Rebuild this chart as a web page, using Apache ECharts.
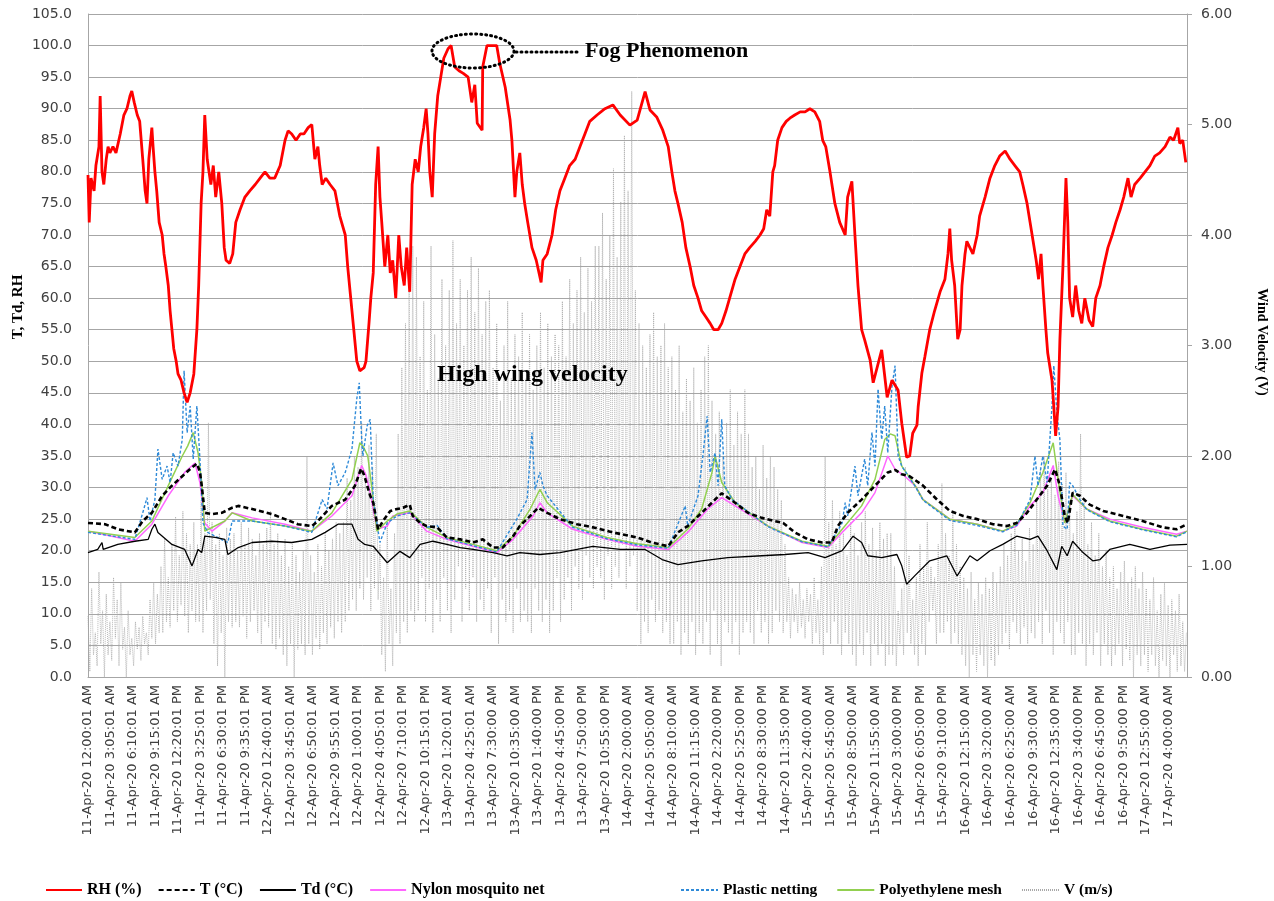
<!DOCTYPE html>
<html>
<head>
<meta charset="utf-8">
<script src="https://cdn.jsdelivr.net/npm/echarts@6/dist/echarts.min.js"></script>
<style>html,body{margin:0;padding:0;background:#fff;}#c{width:1274px;height:901px;}</style>
</head>
<body>
<div id="c"></div>
<script>
// x values are 5-minute steps from 11-Apr-20 12:00:01 AM
const tickLabels = [
"11-Apr-20 12:00:01 AM","11-Apr-20 3:05:01 AM","11-Apr-20 6:10:01 AM","11-Apr-20 9:15:01 AM","11-Apr-20 12:20:01 PM","11-Apr-20 3:25:01 PM","11-Apr-20 6:30:01 PM","11-Apr-20 9:35:01 PM",
"12-Apr-20 12:40:01 AM","12-Apr-20 3:45:01 AM","12-Apr-20 6:50:01 AM","12-Apr-20 9:55:01 AM","12-Apr-20 1:00:01 PM","12-Apr-20 4:05:01 PM","12-Apr-20 7:10:01 PM","12-Apr-20 10:15:01 PM",
"13-Apr-20 1:20:01 AM","13-Apr-20 4:25:01 AM","13-Apr-20 7:30:00 AM","13-Apr-20 10:35:00 AM","13-Apr-20 1:40:00 PM","13-Apr-20 4:45:00 PM","13-Apr-20 7:50:00 PM","13-Apr-20 10:55:00 PM",
"14-Apr-20 2:00:00 AM","14-Apr-20 5:05:00 AM","14-Apr-20 8:10:00 AM","14-Apr-20 11:15:00 AM","14-Apr-20 2:20:00 PM","14-Apr-20 5:25:00 PM","14-Apr-20 8:30:00 PM","14-Apr-20 11:35:00 PM",
"15-Apr-20 2:40:00 AM","15-Apr-20 5:45:00 AM","15-Apr-20 8:50:00 AM","15-Apr-20 11:55:00 AM","15-Apr-20 3:00:00 PM","15-Apr-20 6:05:00 PM","15-Apr-20 9:10:00 PM",
"16-Apr-20 12:15:00 AM","16-Apr-20 3:20:00 AM","16-Apr-20 6:25:00 AM","16-Apr-20 9:30:00 AM","16-Apr-20 12:35:00 PM","16-Apr-20 3:40:00 PM","16-Apr-20 6:45:00 PM","16-Apr-20 9:50:00 PM",
"17-Apr-20 12:55:00 AM","17-Apr-20 4:00:00 AM"];
const lastIndex = 1807;
const labelStep = 37;

const rh = [[0,79.5],[2,72],[5,79],[10,77],[13,81],[18,84],[20,92],[21,92.3],[23,80],[26,78],[30,82],[33,84],[36,83],[41,84],[46,83],[53,86],[59,89],[64,90],[69,92],[72,92.8],[76,91],[81,89],[85,88],[90,82],[94,77],[97,75],[100,82],[105,87],[107,84],[110,80],[113,77],[117,72],[122,70],[125,67],[128,65],[132,62],[135,58],[138,55],[141,52],[145,50],[148,48],[153,47],[158,45],[163,43.5],[168,45],[174,48],[179,55],[182,62],[186,75],[189,80],[192,89],[196,82],[199,80],[202,78],[206,81],[210,76],[215,80],[220,75],[224,68],[227,66],[233,65.5],[238,67],[243,72],[250,74],[258,76],[266,77],[275,78],[283,79],[291,80],[299,79],[307,79],[316,81],[324,85],[329,86.5],[335,86],[342,85],[349,86],[355,86],[362,87],[368,87.5],[373,82],[378,84],[381,81],[385,78],[391,79],[398,78],[406,77],[414,73],[423,70],[427,65],[432,60],[437,55],[442,50],[447,48.5],[454,49],[457,50],[462,56],[465,60],[469,64],[473,78],[477,84],[480,76],[483,72],[488,65],[493,70],[497,64],[501,66],[506,60],[511,70],[515,65],[520,62],[524,68],[529,61],[533,78],[538,82],[543,80],[547,84],[552,87],[556,90],[559,86],[562,80],[566,76],[570,86],[575,92],[580,95],[585,98],[592,99.5],[597,100],[600,100],[603,96.6],[610,96],[617,95.6],[625,95],[631,91],[636,93.8],[640,87.7],[648,86.6],[649,96.6],[656,100],[672,100],[677,97.2],[686,93.4],[694,88.2],[697,85],[702,76],[705,80],[710,83],[714,78],[718,75],[723,72],[730,68],[737,66],[745,62.5],[748,66],[755,67],[763,70],[769,74],[776,77],[784,79],[792,81],[801,82],[809,84],[817,86],[825,88],[837,89],[850,90],[863,90.6],[875,89],[891,87.4],[903,88.2],[916,92.7],[924,89.8],[935,88.7],[945,86.6],[954,84],[960,80],[965,77],[970,75],[977,72],[983,68],[990,65],[996,62],[1003,60],[1009,58],[1016,57],[1023,56],[1029,55],[1036,55],[1042,56],[1049,58],[1055,60],[1064,63],[1072,65],[1080,67],[1088,68],[1097,69],[1105,70],[1111,71],[1116,74],[1121,73],[1126,80],[1129,81],[1134,85],[1141,87],[1148,88],[1154,88.5],[1162,89],[1171,89.5],[1179,89.5],[1187,90],[1195,89.5],[1203,88],[1208,85],[1213,84],[1220,80],[1228,75],[1236,72],[1245,70],[1249,76],[1256,78.5],[1261,70],[1266,62],[1272,55],[1277,53.4],[1286,50.2],[1291,46.6],[1305,51.8],[1314,44.3],[1322,47],[1332,45.4],[1338,40.2],[1346,34.8],[1351,35],[1356,38.6],[1363,39.9],[1365,42.8],[1371,48.1],[1376,50.7],[1381,53.4],[1384,55],[1392,58],[1401,61],[1409,63],[1414,67],[1417,71],[1420,66],[1425,62],[1430,53.5],[1434,55],[1437,62],[1442,67],[1445,69],[1450,68],[1455,67],[1462,70],[1466,73],[1475,76],[1483,79],[1491,81],[1499,82.5],[1508,83.3],[1516,82],[1524,81],[1532,80],[1537,78],[1544,75],[1549,72],[1554,69],[1559,66],[1563,63],[1567,67],[1570,62],[1575,55],[1578,51.3],[1585,47],[1588,42.8],[1591,38.2],[1595,42.8],[1598,53.4],[1603,65],[1608,79],[1611,72],[1614,60],[1619,57],[1624,62],[1629,58],[1634,56],[1639,60],[1646,56.5],[1652,55.5],[1657,60],[1664,62],[1670,65],[1677,68],[1684,70],[1690,72],[1697,74],[1703,76],[1710,79],[1715,76],[1721,78],[1730,79],[1738,80],[1746,81],[1754,82.5],[1762,83],[1771,84],[1779,85.5],[1785,85],[1792,87],[1795,84.5],[1800,85],[1805,81.5]];

const tAir = [[0,24.4],[28,24.2],[49,23.4],[77,22.9],[90,24.7],[105,26],[122,28.7],[138,30.3],[155,31.8],[171,33.2],[179,33.8],[184,32.5],[187,30.3],[192,26],[204,25.8],[220,26],[237,26.8],[247,27.1],[270,26.6],[302,25.8],[324,25],[345,24.2],[368,23.9],[378,24.7],[401,27.1],[423,28.1],[439,30.3],[449,33],[454,32],[464,28.7],[469,27.6],[477,23.4],[485,24.7],[497,26.3],[508,26.6],[518,26.8],[529,27.3],[534,25.5],[546,24.4],[557,23.9],[574,23.7],[590,22.1],[612,21.8],[633,21.3],[649,21.8],[666,20.5],[682,20.5],[699,22.3],[710,23.9],[727,25.5],[740,26.8],[755,26],[776,25],[804,24.2],[830,23.7],[863,22.9],[903,22.1],[927,21.3],[954,20.7],[970,22.9],[986,23.9],[1009,26],[1031,28.1],[1042,29.1],[1064,27.6],[1085,26],[1108,25.2],[1129,24.7],[1143,24.4],[1162,22.9],[1184,21.8],[1207,21.3],[1223,21.3],[1233,23.9],[1249,26],[1272,28.1],[1294,30.3],[1315,32.4],[1327,32.8],[1338,32.1],[1351,31.8],[1373,30.3],[1396,28.1],[1417,26.3],[1439,25.5],[1462,25],[1488,24.2],[1511,23.9],[1527,24.4],[1544,26],[1560,28.1],[1577,30.3],[1590,32.9],[1598,30.3],[1606,25.5],[1611,24.4],[1619,29.2],[1631,28.7],[1647,27.3],[1669,26.3],[1702,25.5],[1734,24.7],[1767,23.7],[1790,23.4],[1807,24.2]];

const td = [[0,19.7],[16,20.2],[23,21.3],[25,20.2],[49,21],[77,21.5],[99,21.8],[105,23.4],[110,24.2],[115,22.9],[138,21],[159,20.2],[171,17.6],[181,20.2],[187,19.7],[192,22.3],[209,22.1],[225,21.8],[230,19.4],[247,20.5],[270,21.3],[302,21.5],[335,21.3],[368,21.8],[390,22.9],[411,24.2],[434,24.2],[444,21.8],[455,21],[469,20.7],[492,18.1],[513,19.9],[529,18.9],[546,21],[567,21.5],[590,21],[612,20.5],[633,20.2],[666,19.7],[689,19.2],[710,19.7],[743,19.4],[776,19.7],[830,20.7],[875,20.2],[916,20.2],[944,18.6],[970,17.8],[1009,18.4],[1052,18.9],[1108,19.2],[1146,19.4],[1184,19.7],[1212,18.9],[1240,20],[1258,22.3],[1272,21.3],[1282,19.2],[1305,18.9],[1330,19.4],[1338,17.6],[1346,14.7],[1360,16.1],[1363,16],[1384,18.4],[1412,19.2],[1429,16],[1450,19.2],[1462,18.4],[1483,20],[1504,21],[1527,22.3],[1549,21.8],[1562,22.3],[1577,20],[1593,17],[1601,20.7],[1610,19.2],[1619,21.5],[1636,19.7],[1652,18.4],[1664,18.6],[1680,20.2],[1713,21],[1746,20.2],[1779,20.9],[1807,21]];

const nylon = [[0,23.1],[77,21.5],[105,24.2],[132,28.7],[159,32.4],[176,33.9],[184,30.8],[192,24.4],[204,23.1],[225,24.7],[237,26],[270,25.2],[324,24.2],[368,23.1],[401,25.5],[434,28.7],[450,33.5],[457,32],[464,29.2],[475,23.4],[492,23.9],[501,25.5],[529,26],[557,23.1],[590,21.8],[633,20.7],[672,19.7],[699,21.8],[732,25.5],[743,27.6],[755,26],[797,23.4],[853,21.8],[903,20.7],[954,20.2],[986,22.9],[1019,26.6],[1042,28.4],[1064,27.1],[1118,23.9],[1174,21.3],[1217,20.5],[1240,22.9],[1272,26],[1294,29.2],[1315,35],[1327,32.9],[1343,31.8],[1360,30.3],[1373,28.1],[1417,25],[1462,24.2],[1504,23.1],[1527,23.9],[1549,27.1],[1570,29.2],[1587,33.5],[1595,28.7],[1606,24.4],[1619,28.7],[1642,26.6],[1680,25],[1734,23.7],[1790,22.6],[1807,23.1]];

const plastic = [[0,22.9],[77,21.8],[90,26],[97,28.4],[102,24.7],[110,28.1],[115,36.1],[122,31.3],[130,33.4],[135,30.8],[140,35.5],[148,33.4],[155,37.6],[158,48.5],[163,38.7],[168,42.9],[173,34.5],[179,42.9],[184,34.5],[189,24.4],[197,22.9],[209,22.3],[225,21.5],[230,21.3],[237,24.7],[270,24.7],[324,23.9],[368,22.9],[385,28.1],[393,26.6],[403,33.9],[411,30.3],[423,32.4],[434,36.1],[442,44.1],[446,46.6],[450,37.6],[452,35],[459,39.8],[464,40.8],[469,28.1],[480,21.3],[492,24.4],[508,25.5],[529,26],[557,23.7],[574,24],[590,21.9],[633,20.8],[672,19.8],[705,25],[722,28.1],[730,38.7],[735,29.7],[743,32.4],[748,30.3],[755,28.7],[797,23.7],[853,21.9],[903,20.9],[954,20.4],[982,27.1],[986,23.9],[1003,28.7],[1011,35],[1018,41.3],[1023,32.4],[1031,35.5],[1036,30.3],[1042,40.8],[1047,30.3],[1059,28.1],[1118,23.8],[1174,21.4],[1217,20.6],[1240,24.4],[1245,27.6],[1249,25.5],[1261,33.4],[1266,28.7],[1277,34.5],[1282,30.3],[1289,38.7],[1294,33.4],[1299,45.6],[1305,37.6],[1310,42.9],[1315,35.5],[1322,46.1],[1327,49.3],[1332,35],[1338,33.4],[1360,30.2],[1373,28],[1417,24.8],[1462,24],[1504,23],[1527,24],[1549,28.1],[1557,35],[1562,30.3],[1570,35],[1577,30.8],[1585,42.9],[1588,49.3],[1593,41.9],[1598,37.6],[1603,23.9],[1610,23.4],[1614,30.8],[1619,30.3],[1631,28.1],[1642,26.5],[1680,24.6],[1734,23.3],[1790,22.2],[1807,23]];

const poly = [[0,23.1],[77,22.1],[105,24.7],[132,30.3],[155,35],[164,36.6],[173,38.7],[181,35.5],[187,30.8],[192,23.1],[225,24.7],[237,26],[270,24.7],[324,23.9],[368,23.1],[401,26],[434,31.3],[447,37.1],[452,36.6],[460,35],[467,29.7],[475,23.1],[492,24.7],[508,25.8],[529,26.3],[557,23.7],[590,22.1],[633,21],[672,20],[699,22.3],[727,26.6],[743,29.7],[755,27.6],[797,23.9],[853,22.1],[903,21.1],[954,20.5],[986,23.4],[1009,26.6],[1026,32.4],[1031,35],[1042,30.8],[1064,27.6],[1118,23.9],[1174,21.5],[1217,20.7],[1240,23.4],[1272,27.1],[1294,31.3],[1310,37.6],[1319,38.5],[1327,38.2],[1338,33.4],[1360,30.3],[1373,28.1],[1417,25],[1462,24.2],[1504,23.1],[1527,24.2],[1549,27.6],[1570,32.4],[1587,37.1],[1595,31.3],[1606,24.4],[1619,28.9],[1642,26.6],[1680,24.7],[1734,23.4],[1790,22.3],[1807,23.1]];

// wind velocity (m/s), one value every 3 steps (15 min)
const windStep = 3;
const wind = [
0.55,0.05,0.8,0.2,0.4,0.1,0.95,0.3,0.6,0.0,0.75,0.2,0.5,0.15,0.9,0.35,0.7,0.1,0.85,0.25,
0.45,0.0,0.6,0.2,0.35,0.1,0.5,0.25,0.45,0.15,0.55,0.3,0.4,0.2,0.7,0.35,0.85,0.3,0.75,0.4,
1.0,0.4,1.25,0.5,0.9,0.45,1.2,0.6,1.45,0.5,1.1,0.65,1.5,0.55,1.3,0.4,1.2,0.6,1.4,0.5,
1.2,0.5,1.6,0.4,1.3,0.6,2.3,0.7,1.4,0.3,1.2,0.1,1.3,0.4,1.1,0.0,1.35,0.5,1.25,0.45,
1.3,0.5,1.15,0.45,1.4,0.55,1.2,0.35,1.35,0.5,1.25,0.6,1.1,0.4,1.3,0.3,1.2,0.5,1.35,0.45,
1.5,0.3,1.2,0.25,1.3,0.35,1.1,0.2,1.25,0.1,1.0,0.3,1.2,0.0,1.1,0.25,0.95,0.3,1.15,0.2,
2.0,0.3,1.1,0.2,0.95,0.35,1.2,0.25,1.0,0.4,1.3,0.3,1.15,0.45,1.25,0.35,1.4,0.5,1.3,0.4,
1.4,0.5,1.8,0.6,1.6,0.7,2.0,0.6,1.9,0.8,2.3,0.7,1.85,0.9,2.1,0.6,1.9,0.8,2.2,0.7,
1.2,0.2,0.9,0.05,1.4,0.3,0.8,0.1,1.3,0.4,2.2,0.3,2.8,0.5,3.2,0.4,3.7,0.6,3.9,0.5,
3.8,0.6,2.9,0.9,3.4,0.5,2.6,0.8,3.9,0.4,3.1,0.7,2.7,0.5,3.6,0.9,3.0,0.6,3.5,0.4,
3.95,0.7,3.2,1.0,3.6,0.5,3.0,0.8,3.5,0.6,3.8,0.9,3.3,0.5,3.7,0.7,3.1,0.6,3.4,0.8,
3.5,0.4,2.8,0.9,3.2,0.3,2.5,0.7,3.0,0.5,3.4,0.6,2.7,0.4,3.1,0.8,2.9,0.5,3.3,0.6,
2.7,0.5,3.1,0.4,2.6,0.8,3.0,0.6,3.3,0.5,2.8,0.7,3.2,0.4,2.9,0.6,3.1,0.9,3.0,0.5,
3.4,0.7,2.9,0.9,3.6,0.6,3.2,1.0,3.5,0.8,3.8,0.7,3.3,1.1,3.7,0.9,3.4,0.8,3.9,1.0,
3.9,0.9,4.2,0.7,3.6,1.1,4.0,0.8,4.6,1.0,3.8,0.9,4.3,1.2,4.9,0.8,4.4,1.0,5.3,1.1,
3.5,0.6,3.2,0.3,3.0,0.5,2.8,0.4,3.1,0.7,3.3,0.5,2.9,0.6,3.0,0.4,3.2,0.5,2.8,0.3,
2.9,0.3,2.6,0.5,3.0,0.2,2.4,0.4,2.7,0.3,2.5,0.5,2.8,0.2,2.3,0.4,2.6,0.3,2.9,0.5,
3.0,0.2,2.5,0.6,2.2,0.3,2.4,0.1,2.0,0.5,2.3,0.4,2.6,0.3,2.1,0.5,2.4,0.2,2.2,0.4,
2.6,0.5,2.2,0.4,1.9,0.3,2.0,0.6,1.7,0.4,2.1,0.5,1.8,0.3,2.0,0.4,1.9,0.6,1.7,0.5,
1.6,0.4,1.2,0.5,0.9,0.35,0.8,0.5,0.75,0.4,0.85,0.45,0.7,0.35,0.8,0.5,0.75,0.3,0.9,0.4,
0.7,0.3,1.0,0.2,2.0,0.4,1.4,0.3,1.6,0.5,1.2,0.3,1.5,0.2,1.3,0.4,1.1,0.3,1.4,0.2,
1.3,0.1,1.1,0.3,1.4,0.2,1.5,0.4,1.2,0.1,1.35,0.3,1.15,0.2,1.4,0.3,1.25,0.1,1.3,0.2,
1.3,0.2,1.0,0.1,0.6,0.3,0.8,0.2,1.9,0.4,1.1,0.3,0.7,0.2,0.9,0.1,1.2,0.3,1.0,0.2,
1.4,0.5,1.0,0.6,0.9,0.3,1.2,0.4,1.75,0.4,1.3,0.5,1.1,0.3,1.5,0.4,1.2,0.3,1.0,0.2,
0.9,0.1,0.8,0.0,0.95,0.2,0.7,0.05,0.85,0.2,0.75,0.1,0.9,0.0,0.8,0.15,0.95,0.1,0.85,0.2,
1.0,0.3,1.2,0.4,1.1,0.25,1.3,0.5,1.4,0.4,1.15,0.3,1.25,0.45,1.05,0.3,1.35,0.4,1.2,0.35,
1.6,0.5,1.9,0.3,2.0,0.6,1.7,0.4,1.8,0.2,1.65,0.5,1.95,0.4,1.75,0.3,1.85,0.5,1.6,0.2,
1.3,0.2,1.5,0.4,2.2,0.3,1.6,0.1,1.2,0.3,1.4,0.2,1.1,0.4,1.3,0.1,1.0,0.3,1.15,0.2,
0.9,0.1,1.0,0.2,0.8,0.3,0.95,0.1,1.05,0.25,0.85,0.15,0.9,0.0,1.0,0.2,0.8,0.1,0.95,0.2,
0.8,0.05,0.7,0.2,0.9,0.1,0.6,0.0,0.75,0.15,0.85,0.1,0.65,0.0,0.7,0.2,0.6,0.05,0.75,0.1,
0.5,0.05,0.4];

const serif = 'Liberation Serif';
const sans = 'DejaVu Sans';
const gridColor = '#a6a6a6';

const chart = echarts.init(document.getElementById('c'), null, {renderer: 'canvas'});

const option = {
  animation: false,
  backgroundColor: '#fff',
  grid: {left: 88, right: 87, top: 14, bottom: 224, containLabel: false},
  legend: [{
    left: 40, top: 877, itemWidth: 36, itemHeight: 12, itemGap: 16,
    itemStyle: {opacity: 0},
    textStyle: {fontFamily: serif, fontWeight: 'bold', fontSize: 16, color: '#000'},
    data: ['RH (%)', 'T (°C)', 'Td (°C)', 'Nylon mosquito net']
  }, {
    left: 675, top: 877, itemWidth: 37, itemHeight: 12, itemGap: 19,
    itemStyle: {opacity: 0},
    textStyle: {fontFamily: serif, fontWeight: 'bold', fontSize: 15.5, color: '#000'},
    data: ['Plastic netting', 'Polyethylene mesh', 'V (m/s)']
  }],
  xAxis: {
    type: 'value', min: 0, max: lastIndex, interval: labelStep,
    axisLine: {show: true, lineStyle: {color: gridColor}},
    axisTick: {show: false},
    splitLine: {show: false},
    axisLabel: {
      rotate: 90, margin: 8, fontFamily: sans, fontSize: 13, color: '#404040',
      showMaxLabel: false,
      formatter: function (v) {
        const k = v / labelStep;
        return Number.isInteger(k) && tickLabels[k] ? tickLabels[k] : '';
      }
    }
  },
  yAxis: [{
    type: 'value', min: 0, max: 105, interval: 5,
    axisLine: {show: true, lineStyle: {color: gridColor}},
    axisTick: {show: false},
    splitLine: {show: true, lineStyle: {color: gridColor, width: 1}},
    axisLabel: {fontFamily: sans, fontSize: 14, color: '#404040', margin: 16,
      formatter: v => v.toFixed(1)}
  }, {
    type: 'value', min: 0, max: 6, interval: 1, position: 'right',
    axisLine: {show: true, lineStyle: {color: gridColor}},
    axisTick: {show: true, inside: false, length: 5, lineStyle: {color: gridColor}},
    splitLine: {show: false},
    axisLabel: {fontFamily: sans, fontSize: 14, color: '#404040', margin: 14,
      formatter: v => v.toFixed(2)}
  }],
  series: [
    {name: 'V (m/s)', type: 'line', yAxisIndex: 1, symbol: 'none', z: 1,
      data: wind.map((v, i) => [i * windStep, v]),
      lineStyle: {color: '#a6a6a6', width: 0.8, type: [1, 1]}, itemStyle: {color: '#a6a6a6'}},
    {name: 'Nylon mosquito net', type: 'line', symbol: 'none', z: 2, data: nylon,
      lineStyle: {color: '#ff66ff', width: 1.5}, itemStyle: {color: '#ff66ff'}},
    {name: 'Polyethylene mesh', type: 'line', symbol: 'none', z: 3, data: poly,
      lineStyle: {color: '#92d050', width: 1.5}, itemStyle: {color: '#92d050'}},
    {name: 'Plastic netting', type: 'line', symbol: 'none', z: 4, data: plastic,
      lineStyle: {color: '#2e8ad8', width: 1.4, type: [3, 2]}, itemStyle: {color: '#2e8ad8'}},
    {name: 'Td (°C)', type: 'line', symbol: 'none', z: 5, data: td,
      lineStyle: {color: '#000', width: 1.3}, itemStyle: {color: '#000'}},
    {name: 'T (°C)', type: 'line', symbol: 'none', z: 6, data: tAir,
      lineStyle: {color: '#000', width: 2.6, type: [5, 3]}, itemStyle: {color: '#000'}},
    {name: 'RH (%)', type: 'line', symbol: 'none', z: 7, data: rh,
      lineStyle: {color: '#ff0000', width: 2.8}, itemStyle: {color: '#ff0000'}}
  ],
  graphic: [
    {type: 'ellipse', z: 100, shape: {cx: 473, cy: 51, rx: 41, ry: 17},
      style: {fill: 'none', stroke: '#000', lineWidth: 3, lineDash: [1, 4], lineCap: 'round'}},
    {type: 'line', z: 100, shape: {x1: 516, y1: 52, x2: 577, y2: 52},
      style: {stroke: '#000', lineWidth: 3, lineDash: [1, 4], lineCap: 'round'}},
    {type: 'text', z: 100, x: 585, y: 51,
      style: {text: 'Fog Phenomenon', font: 'bold 22px "Liberation Serif"', fill: '#000', verticalAlign: 'middle'}},
    {type: 'text', z: 100, x: 437, y: 375,
      style: {text: 'High wing velocity', font: 'bold 24px "Liberation Serif"', fill: '#000', verticalAlign: 'middle'}},
    {type: 'text', z: 100, x: 18, y: 307, rotation: Math.PI / 2,
      style: {text: 'T, Td, RH', font: 'bold 15px "Liberation Serif"', fill: '#000', align: 'center', verticalAlign: 'middle'}},
    {type: 'text', z: 100, x: 1262, y: 342, rotation: -Math.PI / 2,
      style: {text: 'Wind Velocity (V)', font: 'bold 14px "Liberation Serif"', fill: '#000', align: 'center', verticalAlign: 'middle'}}
  ]
};
chart.setOption(option);
</script>
</body>
</html>
